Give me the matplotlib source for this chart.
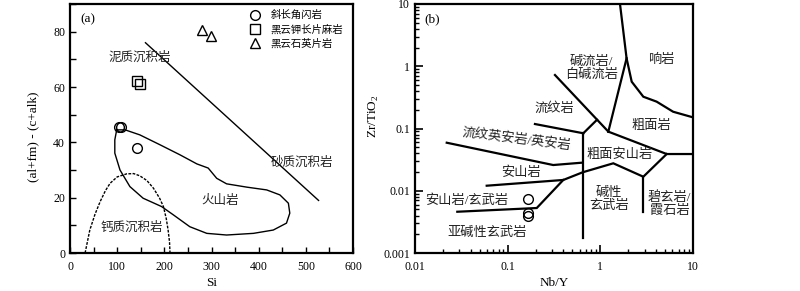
import numpy as np
import matplotlib
matplotlib.use("Agg")
import matplotlib.pyplot as plt
from matplotlib.ticker import FixedLocator, MultipleLocator, LogLocator, NullFormatter, FuncFormatter

plt.rcParams['font.family'] = ['Liberation Serif', 'Noto Sans CJK SC']
plt.rcParams['mathtext.fontset'] = 'custom'
plt.rcParams['mathtext.rm'] = 'Liberation Serif'
plt.rcParams['axes.unicode_minus'] = False

# ---------------- Panel (a) data ----------------
amph_si = [104, 109, 141]
amph_y = [45.4, 45.6, 37.9]
gneiss_si = [143, 148]
gneiss_y = [62.0, 61.2]
schist_si = [279, 299]
schist_y = [80.7, 78.6]

# boundary line between pelitic and psammitic sediments
line_si = [160, 527]
line_y = [76, 19]

# volcanic field outline
volc_si = [99, 117, 148, 191, 233, 269, 293, 311, 332, 375, 417, 445, 463, 466, 459,
           431, 389, 332, 290, 254, 219, 194, 155, 127, 106, 95, 95, 99]
volc_y = [44.5, 44.5, 42.7, 39.1, 35.5, 32.2, 30.7, 27.0, 25.0, 23.8, 22.8, 21.0, 18.0,
          14.4, 10.8, 8.3, 7.1, 6.5, 7.1, 9.5, 13.8, 16.8, 19.8, 24.0, 30.0, 36.1, 40.9, 44.5]

# calcareous sediment field (dashed)
calc_si = [32, 42, 53, 64, 75, 85, 100, 120, 135, 148, 163, 177, 190, 198, 204, 208, 211, 212]
calc_y = [0, 8.3, 14, 18.6, 22.5, 25.2, 27.5, 28.6, 28.7, 27.9, 26.2, 23.4, 19.8, 16.8, 12.5, 8.3, 4, 0]

leg_labels = ['斜长角闪岩', '黑云钾长片麻岩', '黑云石英片岩']

# ---------------- Panel (b) data ----------------
b_nby = [0.167, 0.165, 0.165]
b_zr = [0.0074, 0.0044, 0.0039]

b_lines = [
    ([1.63, 1.92, 1.22], [10, 1.34, 0.089]),
    ([1.92, 2.18, 2.91, 4.05, 6.1, 10], [1.34, 0.565, 0.324, 0.27, 0.186, 0.151]),
    ([0.324, 1.22], [0.723, 0.089]),
    ([0.92, 0.655], [0.138, 0.0838]),
    ([0.197, 0.655], [0.118, 0.0838]),
    ([1.22, 5.2, 10], [0.089, 0.0389, 0.0389]),
    ([0.022, 0.310, 0.645], [0.0591, 0.0259, 0.0283]),
    ([0.645, 0.645], [0.0838, 0.00172]),
    ([0.0594, 0.398, 0.645, 1.38, 2.91, 5.2], [0.01205, 0.0149, 0.0198, 0.0276, 0.0168, 0.0389]),
    ([2.91, 2.91], [0.0168, 0.0046]),
    ([0.0286, 0.206, 0.398], [0.0046, 0.00528, 0.0149]),
]

b_labels = [
    ('响岩', 4.52, 1.26, 0),
    ('碱流岩/\n白碱流岩', 0.80, 0.93, 0),
    ('流纹岩', 0.316, 0.211, 0),
    ('粗面岩', 3.58, 0.11, 0),
    ('流纹英安岩/英安岩', 0.125, 0.068, -7),
    ('粗面安山岩', 1.60, 0.0375, 0),
    ('安山岩', 0.138, 0.0195, 0),
    ('碱性\n玄武岩', 1.25, 0.0072, 0),
    ('碧玄岩/\n霞石岩', 5.56, 0.006, 0),
    ('安山岩/玄武岩', 0.036, 0.0068, 0),
    ('亚碱性玄武岩', 0.060, 0.00207, 0),
]

fig = plt.figure(figsize=(8, 2.91), dpi=100)
W, H = 800, 291
ax1 = fig.add_axes([70 / W, 38 / H, 283 / W, 249 / H])
ax2 = fig.add_axes([415 / W, 38 / H, 278 / W, 249 / H])

# ---------- panel a ----------
ax1.plot(line_si, line_y, color='black', lw=1.0)
ax1.plot(volc_si, volc_y, color='black', lw=1.0)
ax1.plot(calc_si, calc_y, color='black', lw=1.0, ls=(0, (2, 1)))
h1, = ax1.plot(amph_si, amph_y, 'o', mfc='none', mec='black', ms=7, mew=1.0, ls='none')
h2, = ax1.plot(gneiss_si, gneiss_y, 's', mfc='none', mec='black', ms=7, mew=1.0, ls='none')
h3, = ax1.plot(schist_si, schist_y, '^', mfc='none', mec='black', ms=7.5, mew=1.0, ls='none')
ax1.set_xlim(0, 600)
ax1.set_ylim(0, 90)
ax1.xaxis.set_major_locator(FixedLocator([0, 100, 200, 300, 400, 500, 600]))
ax1.xaxis.set_minor_locator(MultipleLocator(50))
ax1.yaxis.set_major_locator(FixedLocator([0, 20, 40, 60, 80]))
ax1.yaxis.set_minor_locator(MultipleLocator(10))
ax1.tick_params(which='both', direction='in', length=4, width=1.0, labelsize=8.5)
ax1.tick_params(axis='x', pad=6)
ax1.set_xlabel('Si', fontsize=9.5, labelpad=3)
ax1.set_ylabel('(al+fm) - (c+alk)', fontsize=9.5)
ax1.yaxis.set_label_coords(-0.11, 0.468)
ax1.text(0.035, 0.94, '(a)', transform=ax1.transAxes, fontsize=9.5, va='center', ha='left')
ax1.text(148, 70.6, '泥质沉积岩', fontsize=9, ha='center', va='center', color='#222222')
ax1.text(491, 32.7, '砂质沉积岩', fontsize=9, ha='center', va='center', color='#222222')
ax1.text(318, 18.9, '火山岩', fontsize=9, ha='center', va='center', color='#222222')
ax1.text(131, 9.3, '钙质沉积岩', fontsize=9, ha='center', va='center', color='#222222')
ax1.legend([h1, h2, h3], leg_labels, loc='upper left', bbox_to_anchor=(0.635, 0.975),
           frameon=False, fontsize=7.5, handlelength=1.0, handletextpad=1.0,
           labelspacing=0.35, borderpad=0, borderaxespad=0)

# ---------- panel b ----------
for xs, ys in b_lines:
    ax2.plot(xs, ys, color='black', lw=1.6, solid_joinstyle='miter')
ax2.plot(b_nby, b_zr, 'o', mfc='none', mec='black', ms=7, mew=1.0, ls='none')
ax2.set_xscale('log')
ax2.set_yscale('log')
ax2.set_xlim(0.01, 10)
ax2.set_ylim(0.001, 10)
fmt = FuncFormatter(lambda v, p: ('%g' % v))
ax2.xaxis.set_major_locator(FixedLocator([0.01, 0.1, 1, 10]))
ax2.yaxis.set_major_locator(FixedLocator([0.001, 0.01, 0.1, 1, 10]))
ax2.xaxis.set_major_formatter(fmt)
ax2.yaxis.set_major_formatter(fmt)
ax2.xaxis.set_minor_locator(LogLocator(base=10, subs=np.arange(2, 10), numticks=20))
ax2.yaxis.set_minor_locator(LogLocator(base=10, subs=np.arange(2, 10), numticks=20))
ax2.xaxis.set_minor_formatter(NullFormatter())
ax2.yaxis.set_minor_formatter(NullFormatter())
ax2.tick_params(which='major', direction='in', length=6, width=1.2, labelsize=8.5)
ax2.tick_params(which='minor', direction='in', length=3, width=1.0)
ax2.tick_params(axis='x', pad=6)
ax2.set_xlabel('Nb/Y', fontsize=9.5, labelpad=3)
ax2.set_ylabel(r'Zr/TiO$_\mathrm{2}$', fontsize=9.5)
ax2.yaxis.set_label_coords(-0.122, 0.55)
ax2.text(0.035, 0.94, '(b)', transform=ax2.transAxes, fontsize=9.5, va='center', ha='left')
for txt, x, y, rot in b_labels:
    ax2.text(x, y, txt, fontsize=9.5, ha='center', va='center', rotation=rot,
             linespacing=1.1, color='#222222')

for ax in (ax1, ax2):
    for s in ax.spines.values():
        s.set_linewidth(1.6)

fig.savefig('out.png', dpi=100)
